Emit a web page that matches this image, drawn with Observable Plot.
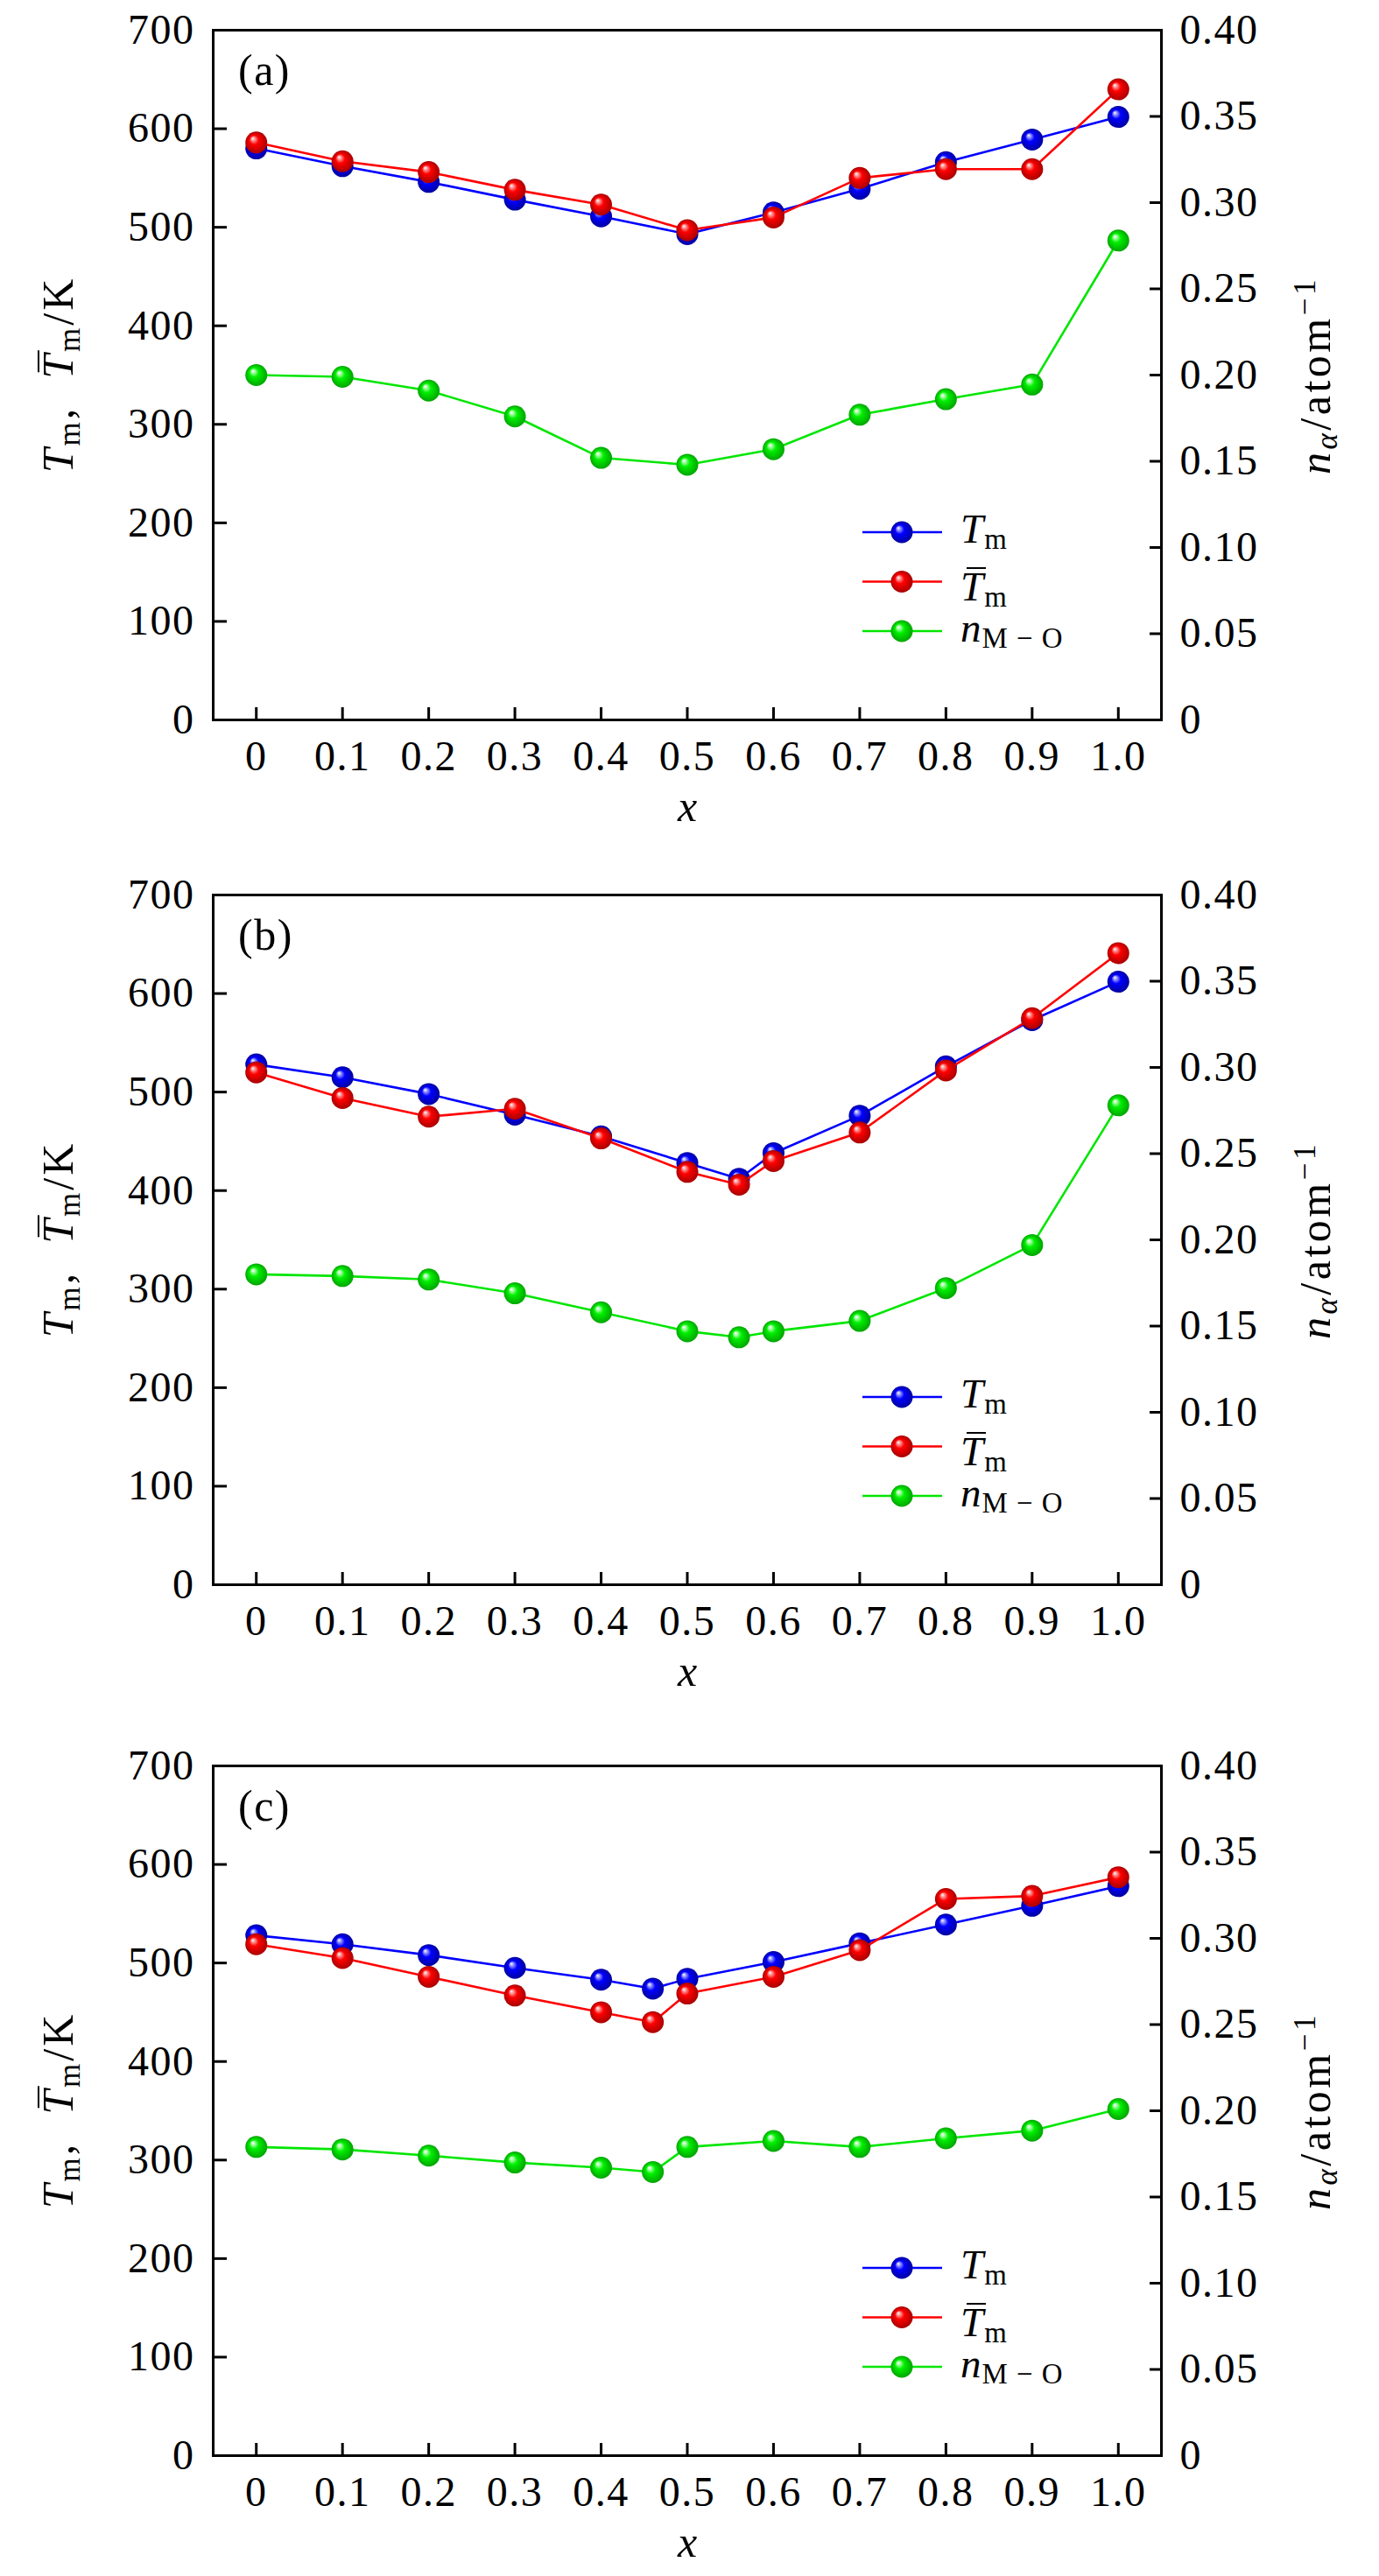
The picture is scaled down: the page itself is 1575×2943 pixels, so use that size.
<!DOCTYPE html>
<html><head><meta charset="utf-8">
<script src="https://cdn.jsdelivr.net/npm/d3@7"></script>
<script src="https://cdn.jsdelivr.net/npm/@observablehq/plot@0.6"></script>
<style>
html,body{margin:0;padding:0;background:#fff;}
#root{position:relative;width:1575px;height:2943px;overflow:hidden;font-family:"Liberation Serif","DejaVu Serif",serif;color:#000;background:#fff;}
#root svg text{font-family:"Liberation Serif","DejaVu Serif",serif;letter-spacing:1.5px;}
.panel{position:absolute;left:0;width:1575px;height:960px;}
.panel svg{position:absolute;left:0;top:0;}
.t{position:absolute;white-space:nowrap;line-height:0;}
.i{font-style:italic;}
.sub{font-size:0.7em;position:relative;top:0.22em;font-style:normal;}
.sub.i{font-style:italic;}
.sup{font-size:0.7em;position:relative;top:-0.5em;}
.bar{position:relative;}
.bar::before{content:"";position:absolute;left:0.14em;right:-0.04em;top:0.09em;border-top:2.5px solid #000;}
</style></head><body><div id="root"></div>
<script>
// ---- tick definitions ----
const xTicks = [0, 0.1, 0.2, 0.3, 0.4, 0.5, 0.6, 0.7, 0.8, 0.9, 1.0];
const xTickLabels = ["0", "0.1", "0.2", "0.3", "0.4", "0.5", "0.6", "0.7", "0.8", "0.9", "1.0"];
const yTicks = [0, 100, 200, 300, 400, 500, 600, 700];
const yTickLabels = ["0", "100", "200", "300", "400", "500", "600", "700"];
const nTicks = [0, 0.05, 0.10, 0.15, 0.20, 0.25, 0.30, 0.35, 0.40];
const nTickLabels = ["0", "0.05", "0.10", "0.15", "0.20", "0.25", "0.30", "0.35", "0.40"];
const panelTags = ["(a)", "(b)", "(c)"];

// ---- panel (a) ----
const xA = [0, 0.1, 0.2, 0.3, 0.4, 0.5, 0.6, 0.7, 0.8, 0.9, 1.0];
const tmA = [580, 562, 546, 528, 511, 493, 515, 539, 566, 589, 612];
const tbA = [586, 567, 556, 538, 523, 497, 510, 550, 559, 559, 640];
const nA  = [0.200, 0.199, 0.191, 0.176, 0.152, 0.148, 0.157, 0.177, 0.186, 0.1945, 0.278];

// ---- panel (b) ----
const xB = [0, 0.1, 0.2, 0.3, 0.4, 0.5, 0.56, 0.6, 0.7, 0.8, 0.9, 1.0];
const tmB = [528, 515, 498, 477, 455, 428, 412, 438, 476, 526, 573, 612];
const tbB = [520, 494, 475, 483, 453, 419, 406, 430, 459, 522, 575, 641];
const nB  = [0.180, 0.179, 0.177, 0.169, 0.158, 0.147, 0.1435, 0.147, 0.153, 0.172, 0.197, 0.278];

// ---- panel (c) ----
const xC = [0, 0.1, 0.2, 0.3, 0.4, 0.46, 0.5, 0.6, 0.7, 0.8, 0.9, 1.0];
const tmC = [528, 519, 508, 495, 483, 474, 484, 501, 520, 539, 558, 578];
const tbC = [519, 505, 486, 467, 450, 440, 469, 486, 513, 565, 568, 587];
const nC  = [0.179, 0.1776, 0.174, 0.170, 0.167, 0.1645, 0.179, 0.1825, 0.179, 0.184, 0.1885, 0.201];

// ---- series styles ----
const seriesLine = ["#0000ff", "#ff0000", "#00e600"];
const seriesBall = [
  ["#ffffff", "#9a9aff", "#0000ff", "#0000a0"],
  ["#ffffff", "#ff9a9a", "#ff0000", "#a80000"],
  ["#ffffff", "#a8ffa8", "#00f000", "#00a400"]
];
const legendHTML = [
  '<span class="i">T</span><span class="sub">m</span>',
  '<span class="i bar">T</span><span class="sub">m</span>',
  '<span class="i">n</span><span class="sub">M \u2212 O</span>'
];
const legendBaselineShift = [12, 21, 12];

const K_PER_N = 700 / 0.40;
const W = 1575, H = 960;
const M = {top: 34, bottom: 138, left: 243, right: 249};
const panelTops = [0, 988, 1983];

function lookup(ticks, labels, d) {
  const i = ticks.findIndex(t => Math.abs(t - d) < 1e-6);
  return i < 0 ? "" : labels[i];
}

function addGradients(svg, gid) {
  const defs = d3.select(svg).insert("defs", ":first-child");
  seriesBall.forEach((c, k) => {
    const g = defs.append("radialGradient").attr("id", gid + k)
      .attr("cx", "50%").attr("cy", "50%").attr("r", "50%")
      .attr("fx", "33%").attr("fy", "30%");
    [[0, c[0]], [0.16, c[1]], [0.42, c[2]], [1, c[3]]].forEach(([o, col]) =>
      g.append("stop").attr("offset", o).attr("stop-color", col));
  });
}

function text(parent, html, x, y, fs, opts = {}) {
  const d = document.createElement("div");
  d.className = "t";
  d.innerHTML = html;
  d.style.fontSize = fs + "px";
  if (opts.rotate) {
    d.style.left = x + "px";
    d.style.top = y + "px";
    d.style.transformOrigin = "0 0";
    d.style.transform = "rotate(-90deg) translateX(-50%)";
  } else {
    d.style.left = x + "px";
    d.style.top = (y - 0.3375 * fs) + "px";
    if (opts.middle) d.style.transform = "translateX(-50%)";
  }
  if (opts.ls) d.style.letterSpacing = opts.ls + "px";
  parent.appendChild(d);
  return d;
}

function buildPanel(p, xs, tm, tb, nm) {
  const gid = "ball" + p + "-";
  const vals = [tm, tb, nm.map(v => v * K_PER_N)];
  const marks = [];
  vals.forEach((ys, k) => {
    const data = xs.map((x, i) => ({x, y: ys[i]}));
    marks.push(Plot.line(data, {x: "x", y: "y", stroke: seriesLine[k], strokeWidth: 2.6}));
    marks.push(Plot.dot(data, {x: "x", y: "y", r: 12.5, fill: `url(#${gid}${k})`}));
  });
  const svg = Plot.plot({
    width: W, height: H,
    marginTop: M.top, marginBottom: M.bottom, marginLeft: M.left, marginRight: M.right,
    x: {domain: [-0.05, 1.05]},
    y: {domain: [0, 700]},
    style: {fontFamily: '"Liberation Serif", "DejaVu Serif", serif', fontSize: "48px", color: "#000", background: "transparent", overflow: "visible"},
    marks: [
      ...marks,
      Plot.frame({stroke: "#000", strokeWidth: 3}),
      Plot.axisX({ticks: xTicks, tickFormat: d => lookup(xTicks, xTickLabels, d), tickSize: -14, tickPadding: 37, strokeWidth: 3, label: null}),
      Plot.axisY({anchor: "left", ticks: yTicks, tickFormat: d => lookup(yTicks, yTickLabels, d), tickSize: -16, tickPadding: 37, strokeWidth: 3, label: null}),
      Plot.axisY({anchor: "right", ticks: nTicks.map(v => v * K_PER_N), tickFormat: d => lookup(nTicks.map(v => v * K_PER_N), nTickLabels, d), tickSize: -14, tickPadding: 35, strokeWidth: 3, label: null})
    ]
  });
  addGradients(svg, gid);

  const div = document.createElement("div");
  div.className = "panel";
  div.style.top = panelTops[p] + "px";
  div.appendChild(svg);

  // legend swatches
  const rowY = k => 608 + k * 56.5;
  const leg = d3.create("svg").attr("width", W).attr("height", H);
  seriesLine.forEach((c, k) => {
    leg.append("line").attr("x1", 985).attr("x2", 1076).attr("y1", rowY(k)).attr("y2", rowY(k))
      .attr("stroke", c).attr("stroke-width", 2.6);
    leg.append("circle").attr("cx", 1030).attr("cy", rowY(k)).attr("r", 12.5).attr("fill", `url(#${gid}${k})`);
  });
  div.appendChild(leg.node());
  document.getElementById("root").appendChild(div);

  legendHTML.forEach((h, k) => text(div, h, 1097, rowY(k) + legendBaselineShift[k], 47, {ls: 1}));

  // panel tag
  text(div, panelTags[p], 272, 97, 50, {ls: 1.5});
  // x label
  text(div, '<span class="i">x</span>', 785, 938, 50, {middle: true});
  // left y label
  text(div, '<span class="i">T</span><span class="sub">m</span>,&nbsp; <span class="i bar">T</span><span class="sub">m</span>/K', 66, 428, 50, {rotate: true, ls: 3});
  // right y label
  text(div, '<span class="i">n</span><span class="sub i">\u03b1</span>/atom<span class="sup">\u22121</span>', 1502, 429, 50, {rotate: true, ls: 3.5});
}

buildPanel(0, xA, tmA, tbA, nA);
buildPanel(1, xB, tmB, tbB, nB);
buildPanel(2, xC, tmC, tbC, nC);
</script>
</body></html>
